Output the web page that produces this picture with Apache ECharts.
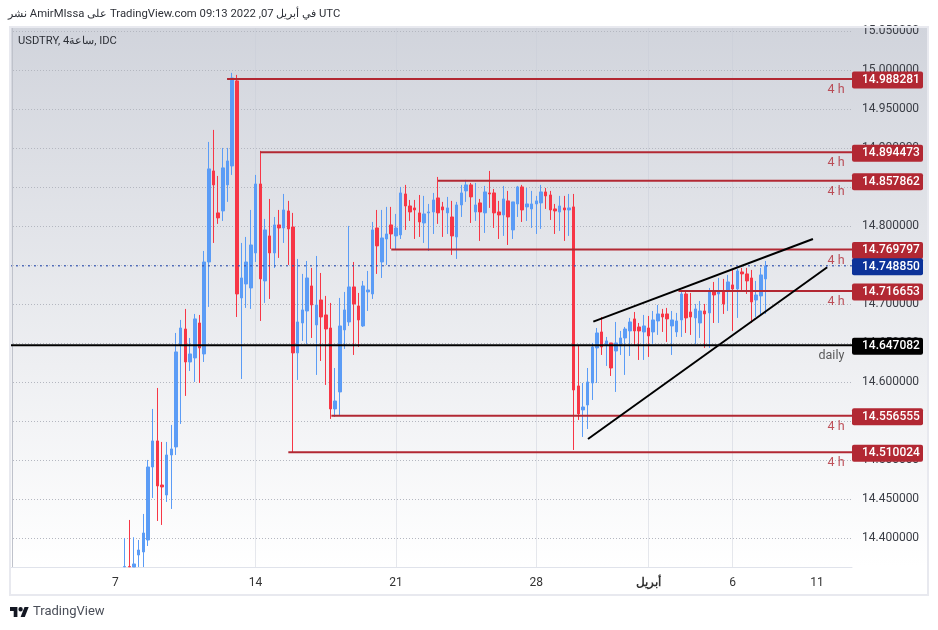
<!DOCTYPE html>
<html>
<head>
<meta charset="utf-8">
<style>html,body{margin:0;padding:0;background:#fff}#chart{width:938px;height:630px}</style>
<script src="https://cdn.jsdelivr.net/npm/echarts@6/dist/echarts.min.js"></script>
</head>
<body>
<div id="chart"></div>
<script>
var barCount = 180;
var firstBar = 24;
// bar index -> date label on the time axis
var dateLabels = {22:'7', 52:'14', 82:'21', 112:'28', 136:'أبريل', 154:'6', 172:'11'};
var priceTicks = [14.4,14.45,14.5,14.55,14.6,14.65,14.7,14.75,14.8,14.85,14.9,14.95,15,15.05];

// open, close, low, high (4h bars; the first ones run off the bottom of the pane)
var candles = [
[14.3630,14.3635,14.3628,14.4000],[14.3635,14.3630,14.3628,14.4231],[14.3628,14.3667,14.3628,14.4009],[14.3782,14.3846,14.3628,14.3974],
[14.3821,14.4064,14.3628,14.4308],[14.3974,14.4910,14.3897,14.5000],[14.4910,14.5244,14.4513,14.5654],[14.5244,14.4667,14.4218,14.5923],
[14.4679,14.4654,14.4167,14.5231],[14.4551,14.5064,14.4462,14.5231],[14.5064,14.5141,14.4372,14.5449],[14.5167,14.6385,14.5064,14.6628],
[14.6474,14.6692,14.5462,14.6795],[14.6679,14.6256,14.5821,14.6936],[14.6256,14.6359,14.6141,14.6564],[14.6308,14.6808,14.6000,14.6872],
[14.6756,14.6436,14.5987,14.6859],[14.6359,14.7538,14.6256,14.7679],[14.7538,14.8731,14.6962,14.9077],[14.8705,14.8526,14.7782,14.9231],
[14.8167,14.8103,14.8026,14.8641],[14.8192,14.8744,14.8064,14.9000],[14.8526,14.8833,14.8308,14.9000],[14.8769,14.9897,14.8654,14.9962],
[14.9859,14.7128,14.6833,14.9936],[14.7077,14.7333,14.6038,14.7782],[14.7256,14.7538,14.6949,14.7859],[14.7205,14.7756,14.6936,14.8205],
[14.7654,14.8538,14.7538,14.8654],[14.8538,14.7321,14.6782,14.8962],[14.7295,14.7949,14.7013,14.8090],[14.7872,14.7654,14.7064,14.8346],
[14.7654,14.8013,14.7462,14.8115],[14.8013,14.7974,14.7590,14.8205],[14.7974,14.8205,14.7782,14.8410],[14.8192,14.7962,14.7500,14.8321],
[14.7987,14.6372,14.5100,14.8167],[14.6372,14.6769,14.6026,14.7577],[14.6756,14.6923,14.6526,14.7385],[14.6910,14.7333,14.6487,14.7551],
[14.7231,14.6987,14.6564,14.7462],[14.6731,14.6987,14.6090,14.7615],[14.7051,14.6833,14.6269,14.7397],[14.6859,14.6679,14.5962,14.7103],
[14.6692,14.5654,14.5526,14.7013],[14.5654,14.5756,14.5551,14.6179],[14.5872,14.6718,14.5577,14.7077],[14.6667,14.6923,14.6423,14.7154],
[14.6769,14.7218,14.6718,14.8000],[14.7218,14.7000,14.6346,14.7538],[14.6974,14.6795,14.6449,14.7141],[14.6718,14.7231,14.6705,14.7295],
[14.7154,14.7179,14.6910,14.7423],[14.7128,14.7949,14.7064,14.8051],[14.7974,14.7744,14.7385,14.8205],[14.7538,14.7846,14.7333,14.8205],
[14.7833,14.7897,14.7500,14.8244],[14.8013,14.7897,14.7705,14.8244],[14.7872,14.7974,14.7692,14.8154],[14.7885,14.8423,14.7833,14.8500],
[14.8410,14.8256,14.7949,14.8526],[14.8256,14.8179,14.8064,14.8333],[14.8231,14.8205,14.7833,14.8333],[14.8167,14.8051,14.7859,14.8397],
[14.8038,14.8154,14.7782,14.8385],[14.8167,14.8179,14.7679,14.8282],[14.8179,14.8333,14.7897,14.8423],[14.8359,14.8167,14.8026,14.8628],
[14.8244,14.8205,14.7859,14.8308],[14.8167,14.8231,14.7897,14.8372],[14.8115,14.7872,14.7628,14.8321],[14.7859,14.8269,14.7577,14.8308],
[14.8269,14.8423,14.8115,14.8526],[14.8449,14.8526,14.8308,14.8590],[14.8526,14.8372,14.8038,14.8551],[14.8179,14.8269,14.8064,14.8551],
[14.8295,14.8179,14.7808,14.8346],[14.8167,14.8436,14.7910,14.8513],[14.8423,14.8410,14.8231,14.8705],[14.8423,14.8167,14.7974,14.8474],
[14.8179,14.8141,14.7833,14.8321],[14.8141,14.8346,14.7872,14.8513],[14.8321,14.8115,14.7756,14.8449],[14.7949,14.8308,14.7833,14.8308],
[14.8282,14.8500,14.8115,14.8513],[14.8500,14.8205,14.8051,14.8526],[14.8244,14.8282,14.8064,14.8487],[14.8218,14.8282,14.7974,14.8449],
[14.8282,14.8321,14.7897,14.8385],[14.8295,14.8436,14.7962,14.8526],[14.8436,14.8385,14.8218,14.8487],[14.8397,14.8205,14.8077,14.8449],
[14.8218,14.8192,14.7897,14.8282],[14.8179,14.8256,14.7936,14.8385],[14.8231,14.8205,14.7808,14.8385],[14.8205,14.8231,14.7872,14.8410],
[14.8244,14.5897,14.5128,14.8410],[14.5949,14.5590,14.5513,14.6474],[14.5641,14.5679,14.5295,14.5987],[14.5705,14.6000,14.5397,14.6179],
[14.5987,14.6449,14.5769,14.6500],[14.6436,14.6628,14.5987,14.6692],[14.6641,14.6449,14.6346,14.6833],[14.6474,14.6526,14.6205,14.6577],
[14.6500,14.6179,14.6077,14.6500],[14.6397,14.6500,14.5872,14.6769],[14.6462,14.6564,14.6346,14.6654],[14.6564,14.6679,14.6090,14.6705],
[14.6654,14.6769,14.6333,14.6821],[14.6808,14.6654,14.6474,14.6897],[14.6705,14.6654,14.6282,14.6756],[14.6641,14.6718,14.6282,14.6859],
[14.6692,14.6590,14.6321,14.6846],[14.6641,14.6795,14.6487,14.6910],[14.6782,14.6872,14.6603,14.6987],[14.6872,14.6833,14.6641,14.6936],
[14.6872,14.6808,14.6513,14.6949],[14.6718,14.6795,14.6346,14.6910],[14.6641,14.6782,14.6577,14.6885],[14.6795,14.7128,14.6577,14.7167],
[14.7128,14.6821,14.6628,14.7167],[14.6897,14.6833,14.6603,14.7141],[14.6821,14.6936,14.6487,14.7000],[14.6756,14.6910,14.6564,14.7038],
[14.6910,14.6872,14.6436,14.7000],[14.6885,14.7167,14.6436,14.7205],[14.7167,14.7115,14.6756,14.7282],[14.7128,14.7154,14.6756,14.7333],
[14.7167,14.7000,14.6872,14.7321],[14.7167,14.7282,14.6910,14.7372],[14.7244,14.7192,14.6654,14.7449],[14.7192,14.7423,14.6821,14.7449],
[14.7410,14.7385,14.7179,14.7462],[14.7385,14.7295,14.7128,14.7462],[14.7333,14.7026,14.6756,14.7436],[14.7051,14.7115,14.6833,14.7295],
[14.7103,14.7372,14.6846,14.7462],[14.7321,14.74885,14.6872,14.7551]
];

// drawn levels: price, first bar, note under the line
var levelPrices = [14.988281,14.894473,14.857862,14.769797,14.716653,14.556555,14.510024];
var levelStarts = [45.9,53,91,81,142.4,68.2,59];
var levelNote = '4 h';
var dailyPrice = 14.647082;
var dailyNote = 'daily';
var lastPrice = 14.74885;
// wedge lines: [bar, price] pairs
var upperTrend = [[124.2,14.6773],[171.15,14.7833]];
var lowerTrend = [[123.06,14.5269],[174.2,14.7471]];

var blue = '#5b9cf6', red = '#f73646', levelRed = '#b22833';
var font = 'Roboto, "Noto Sans", sans-serif';

var categories = [];
for (var i = 0; i < barCount; i++) {
    if (dateLabels[i] === 'أبريل') categories.push({value: dateLabels[i], textStyle: {fontWeight: 'bold'}});
    else categories.push(dateLabels[i] || '');
}
var candleData = candles.map(function (c, k) {
    return [firstBar + k].concat(c);
});

function isDate(idx) { return dateLabels[idx] !== undefined; }

function priceLine(name, start, price, color, width, type) {
    return {
        name: name, type: 'line', xAxisIndex: 1, yAxisIndex: 0, z: 4,
        showSymbol: false, silent: true, clip: true,
        lineStyle: {color: type ? '#2b4fb0' : color, width: width, type: type || 'solid', opacity: type ? 0.75 : 1},
        data: [[start, price], [179.5, price]],
        endLabel: {
            show: true, formatter: price.toFixed(6), distance: 0, offset: [0, 1],
            color: '#fff', fontFamily: font, fontSize: 12, fontWeight: 500,
            backgroundColor: type ? '#0c3299' : color, borderRadius: 2,
            width: 61, height: 17, lineHeight: 17, padding: [0, 0, 0, 10], align: 'left', verticalAlign: 'middle'
        }
    };
}

var series = [{
    name: 'USDTRY', type: 'candlestick', barWidth: 3, z: 2,
    encode: {x: 0, y: [1, 2, 3, 4]},
    itemStyle: {color: blue, borderColor: blue, color0: red, borderColor0: red, borderWidth: 1},
    data: candleData
}];
levelPrices.forEach(function (p, k) {
    series.push(priceLine('level' + k, levelStarts[k], p, levelRed, 2));
});
series.push(priceLine('daily', -0.5, dailyPrice, '#000', 2));
series.push(priceLine('last', -0.5, lastPrice, '#0c3299', 1.5, [2, 4]));
[upperTrend, lowerTrend].forEach(function (t, k) {
    series.push({
        name: 'trend' + k, type: 'line', xAxisIndex: 1, z: 5, showSymbol: false, silent: true,
        lineStyle: {color: '#000', width: 2}, data: t
    });
});
// notes under the lines
var noteData = levelPrices.map(function (p) {
    return {value: [176.1, p], name: levelNote};
});
noteData.push({value: [175.1, dailyPrice], name: dailyNote, label: {color: '#333'}});
series.push({
    name: 'notes', type: 'scatter', xAxisIndex: 1, z: 6, symbolSize: 1, silent: true,
    itemStyle: {color: 'transparent'},
    label: {show: true, position: 'inside', offset: [0, 11], formatter: '{b}', color: levelRed, fontFamily: font, fontSize: 12.5},
    data: noteData
});

var chart = echarts.init(document.getElementById('chart'));
chart.setOption({
    animation: false,
    textStyle: {fontFamily: font},
    grid: {left: 10, right: 86, top: 27, bottom: 63},
    xAxis: [{
        type: 'category', data: categories, boundaryGap: true,
        axisLine: {lineStyle: {color: '#e0e3eb'}},
        axisTick: {show: false},
        axisLabel: {interval: function (idx) { return isDate(idx); }, color: '#333', fontFamily: font, fontSize: 12, margin: 10},
        splitLine: {show: true, showMinLine: false, showMaxLine: false, alignWithLabel: true, interval: function (idx) { return isDate(idx); }, lineStyle: {color: 'rgba(200,204,214,0.45)', width: 1}}
    }, {
        type: 'value', min: -0.5, max: 179.5, show: false
    }],
    yAxis: [{
        type: 'value', position: 'right', min: 14.3628, max: 15.055,
        axisLine: {show: true, lineStyle: {color: '#bfc2cb'}},
        axisTick: {show: false, customValues: priceTicks},
        axisLabel: {
            customValues: priceTicks, color: '#3a3d45', fontFamily: font, fontSize: 12, margin: 10, padding: [2, 0, 0, 0],
            formatter: function (v) { return v.toFixed(6); }
        },
        splitLine: {show: true, lineStyle: {color: '#b4b7c0', width: 1, type: [1, 2]}}
    }],
    graphic: [
        {type: 'rect', z: -10, silent: true, shape: {x: 10, y: 27, width: 918, height: 540},
            style: {fill: new echarts.graphic.LinearGradient(0, 0, 0, 1, [{offset: 0, color: '#d1d4dc'}, {offset: 1, color: '#ffffff'}])}},
        {type: 'rect', z: 20, silent: true, shape: {x: 10, y: 27, width: 918, height: 568},
            style: {fill: 'none', stroke: '#e8e9ef', lineWidth: 2}},
        {type: 'text', x: 8, y: 9, silent: true,
            style: {text: 'نشر AmirMIssa على TradingView.com 09:13 2022 ,07 في أبريل UTC', fill: '#2e3138', font: '11.3px ' + font}},
        {type: 'text', x: 18, y: 36, silent: true,
            style: {text: 'USDTRY, 4ساعة, IDC', fill: '#2e3138', font: '11.2px ' + font}},
        {type: 'polygon', silent: true, shape: {points: [[10,607],[17.4,607],[17.4,617],[13.7,617],[13.7,610.9],[10,610.9]]}, style: {fill: '#131722'}},
        {type: 'polygon', silent: true, shape: {points: [[24.5,607],[28.7,607],[24.8,617],[20.6,617]]}, style: {fill: '#131722'}},
        {type: 'circle', silent: true, shape: {cx: 20.6, cy: 609.2, r: 2.2}, style: {fill: '#131722'}},
        {type: 'text', x: 33, y: 605, silent: true,
            style: {text: 'TradingView', fill: '#4a4e58', font: '13px ' + font}}
    ],
    series: series
});
</script>
</body>
</html>
